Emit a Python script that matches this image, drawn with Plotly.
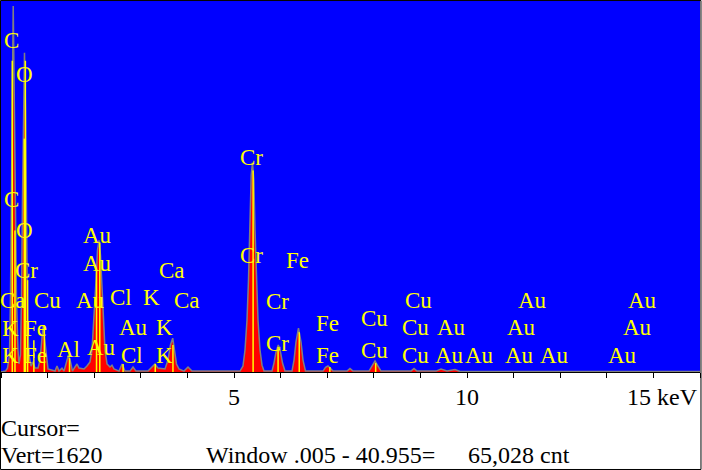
import plotly.graph_objects as go

# ---- spectrum outline (energy keV, counts) ----
spec_kev = [0.000, 0.097, 0.139, 0.182, 0.203, 0.225, 0.246, 0.262, 0.276, 0.300, 0.332, 0.364,
            0.386, 0.418, 0.440, 0.461, 0.483, 0.504, 0.526, 0.547, 0.569, 0.601, 0.644, 0.687,
            0.730, 0.794, 0.837, 0.880, 0.908, 0.934, 0.976, 1.009, 1.159, 1.202, 1.245, 1.309,
            1.352, 1.406, 1.448, 1.491, 1.534, 1.588, 1.631, 1.674, 1.781, 1.845, 1.910, 1.953,
            1.996, 2.039, 2.071, 2.103, 2.135, 2.167, 2.200, 2.232, 2.275, 2.339, 2.382, 2.425,
            2.532, 2.597, 2.661, 2.768, 2.833, 2.897, 3.155, 3.240, 3.305, 3.369, 3.519, 3.584,
            3.637, 3.685, 3.723, 3.766, 3.820, 3.927, 4.013, 4.099, 5.129, 5.193, 5.236, 5.279,
            5.311, 5.343, 5.369, 5.397, 5.425, 5.451, 5.483, 5.515, 5.558, 5.601, 5.644, 5.815,
            5.858, 5.901, 5.951, 5.998, 6.041, 6.094, 6.245, 6.288, 6.330, 6.384, 6.438, 6.481,
            6.534, 6.910, 6.964, 7.017, 7.082, 7.124, 7.425, 7.489, 7.554, 7.897, 7.961, 8.026,
            8.090, 8.155, 8.798, 8.863, 8.927, 9.335, 9.442, 9.571, 9.742, 9.850, 15.000]
spec_cnt = [0, 4, 17, 74, 314, 749, 1359, 1598, 1359, 749, 314, 96,
            35, 74, 314, 749, 1141, 1394, 1141, 618, 226, 74, 26, 44,
            17, 17, 52, 148, 205, 148, 52, 13, 4, 26, 4, 17,
            4, 44, 74, 44, 4, 22, 35, 17, 13, 26, 44, 96,
            226, 401, 531, 575, 510, 357, 226, 96, 35, 22, 30, 13,
            4, 35, 4, 4, 22, 4, 4, 22, 35, 17, 13, 52,
            118, 148, 96, 35, 13, 4, 22, 4, 4, 26, 96, 226,
            401, 662, 858, 915, 836, 618, 401, 226, 96, 30, 4, 4,
            39, 87, 118, 87, 39, 4, 4, 52, 131, 192, 131, 52,
            4, 4, 20, 26, 13, 4, 4, 15, 4, 4, 26, 48,
            26, 4, 4, 15, 4, 4, 13, 4, 11, 2, 2]

# ---- KLM marker lines ----
marker_kev = [0.242, 0.300, 0.500, 0.523, 0.571, 0.705, 0.930, 1.470, 2.050, 2.120,
              2.620, 3.310, 3.690, 5.410, 5.946, 6.400, 7.057, 8.040]
marker_cnt = [1359, 618, 1019, 1359, 401, 139, 205, 61, 444, 566,
              35, 35, 118, 880, 109, 174, 22, 39]

# ---- element labels ----
label_text = ["C", "C", "O", "O", "Cr", "Ca", "Cu", "K", "Fe", "K", "Fe", "Al",
              "Au", "Au", "Au", "Au", "Cl", "K", "Ca", "Ca", "Au", "K", "Cl", "K",
              "Cr", "Cr", "Fe", "Cr", "Cr", "Fe", "Fe", "Cu", "Cu",
              "Cu", "Cu", "Au", "Cu", "Au", "Au",
              "Au", "Au", "Au", "Au", "Au", "Au", "Au"]
label_kev = [0.230, 0.230, 0.494, 0.494, 0.547, 0.268, 0.998, 0.204, 0.745, 0.204, 0.745, 1.453,
             2.071, 2.071, 1.931, 2.146, 2.575, 3.230, 3.670, 4.002, 2.848, 3.519, 2.811, 3.519,
             5.386, 5.376, 6.373, 5.933, 5.933, 7.017, 7.017, 8.015, 8.015,
             8.959, 8.895, 9.667, 8.895, 9.614, 10.268,
             11.416, 11.170, 11.116, 11.878, 13.766, 13.659, 13.337]
label_cnt = [1446, 753, 1298, 618, 444, 314, 314, 192, 192, 74, 74, 100,
             597, 475, 314, 109, 327, 327, 444, 314, 196, 196, 74, 74,
             936, 510, 488, 309, 126, 213, 74, 235, 96,
             314, 196, 196, 74, 74, 74,
             314, 196, 74, 74, 314, 196, 74]

tick_vals = [5, 10, 15]
tick_text = ["5", "10", "15 keV"]

status_lines = ["Cursor=", "Vert=1620", "Window .005 - 40.955=", "65,028 cnt"]

FONT = "Liberation Serif"

fig = go.Figure()
fig.add_trace(go.Scatter(x=spec_kev, y=spec_cnt, mode="lines", fill="tozeroy",
                         fillcolor="#FF0000", line=dict(color="#808080", width=1.5),
                         hoverinfo="skip"))
mx, my = [], []
for k, c in zip(marker_kev, marker_cnt):
    mx += [k, k, None]
    my += [0, c, None]
fig.add_trace(go.Scatter(x=mx, y=my, mode="lines", line=dict(color="#FFFF00", width=1.5),
                         hoverinfo="skip"))

ann = []
for t, k, c in zip(label_text, label_kev, label_cnt):
    ann.append(dict(x=k, y=c, xref="x", yref="y", text=t, showarrow=False,
                    xanchor="center", yanchor="middle",
                    font=dict(family=FONT, size=23, color="#FFFF00")))
for v, t in zip(tick_vals, tick_text):
    ann.append(dict(x=v, y=-0.067, xref="x", yref="paper", text=t, showarrow=False,
                    xanchor="right" if "keV" in t else "center", yanchor="middle",
                    font=dict(family=FONT, size=24, color="black")))
pos = [(0.0, -0.151), (0.0, -0.2237), (0.2933, -0.2237), (0.668, -0.2237)]
for (px, py), t in zip(pos, status_lines):
    ann.append(dict(x=px, y=py, xref="paper", yref="paper", text=t, xshift=-2,
                    showarrow=False, xanchor="left", yanchor="middle",
                    font=dict(family=FONT, size=24, color="black")))

fig.update_layout(
    width=702, height=470,
    margin=dict(l=1, r=2, t=1, b=98),
    paper_bgcolor="white", plot_bgcolor="#0000FF",
    showlegend=False,
    annotations=ann,
    shapes=[dict(type="rect", xref="paper", yref="paper",
                 x0=-0.0007, x1=1.0014, y0=-0.2628, y1=1.0013,
                 line=dict(color="black", width=1))],
    xaxis=dict(range=[0, 15], tick0=0, dtick=1, ticks="outside", ticklen=5,
               tickcolor="black", tickwidth=1, showticklabels=False,
               showgrid=False, zeroline=False, showline=True,
               linecolor="black", linewidth=1, fixedrange=True),
    yaxis=dict(range=[0, 1620], visible=False, fixedrange=True),
)

fig.write_html("out.html", config={"displayModeBar": False},
               post_script="document.body.style.margin='0px';document.body.style.padding='0px';")
